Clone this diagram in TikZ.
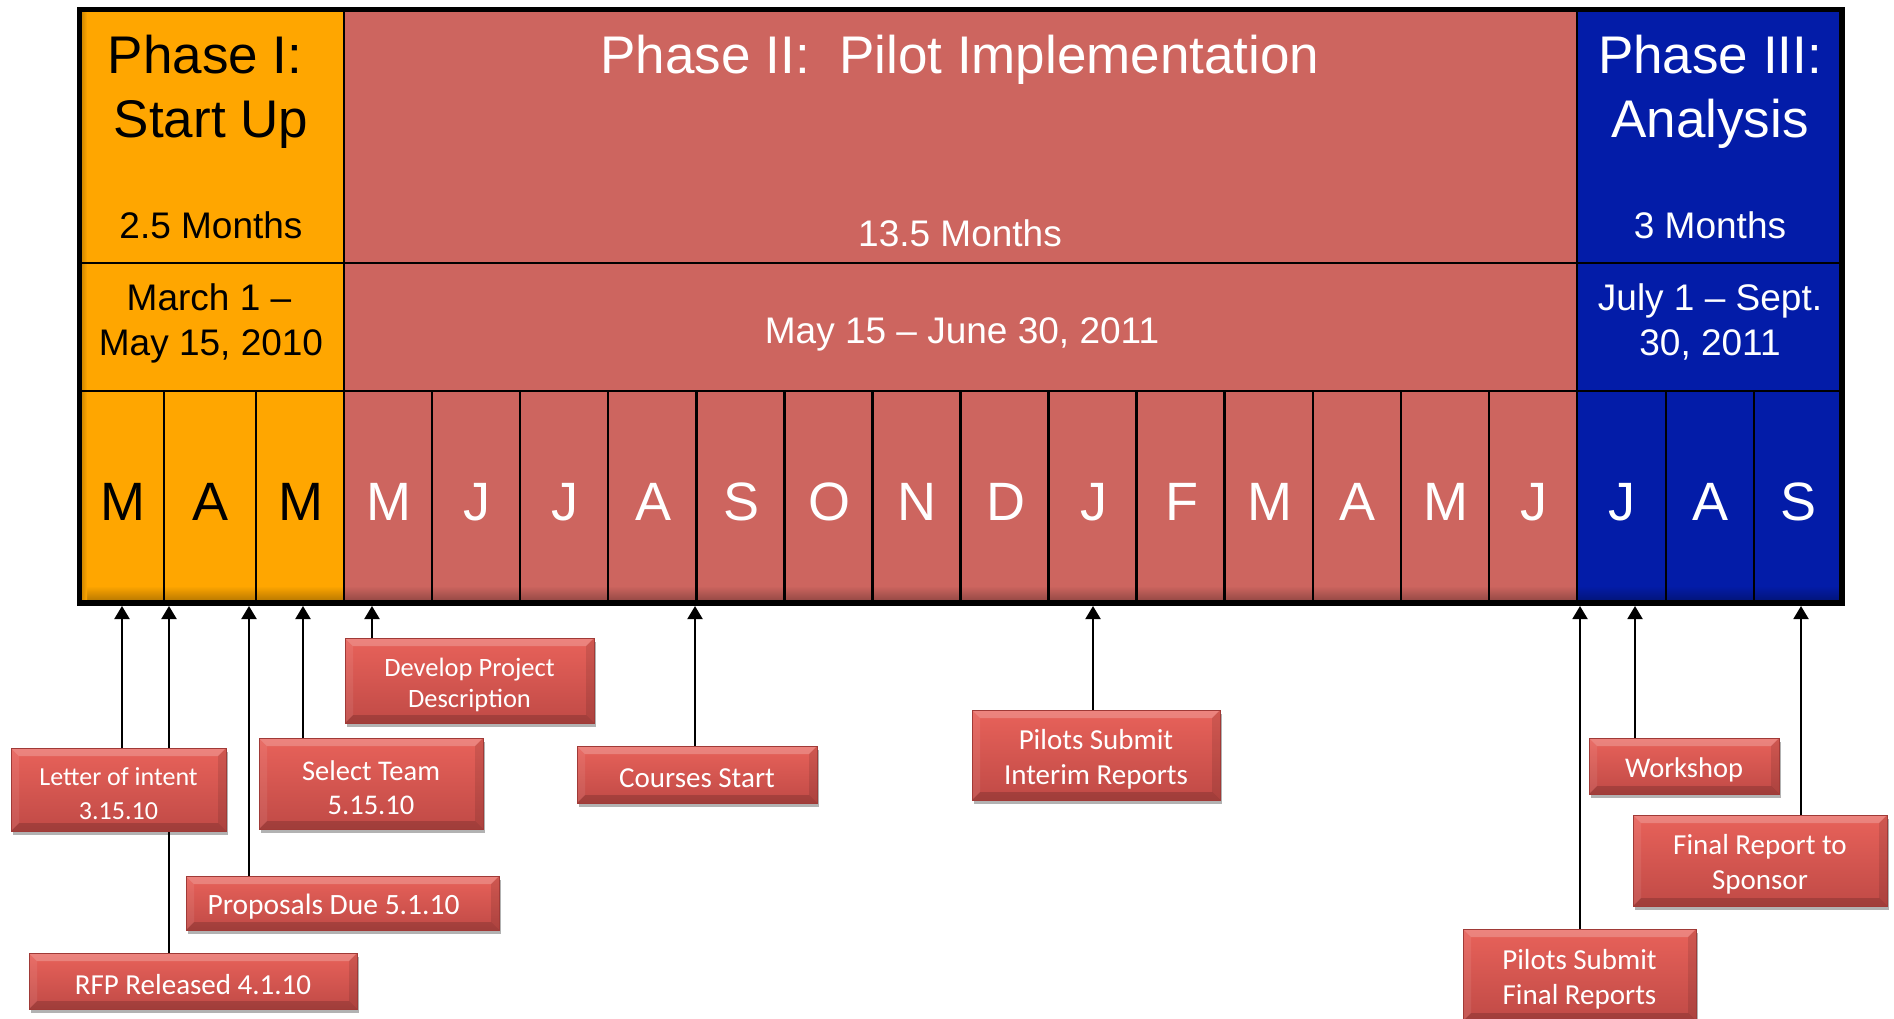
\documentclass[tikz,border=0pt]{standalone}
\usepackage{fontspec}
\setmainfont{Liberation Sans}
\newfontfamily\calib{Carlito}
\usetikzlibrary{arrows.meta,shadows,backgrounds}

\definecolor{phOne}{RGB}{255,166,0}
\definecolor{phTwo}{RGB}{205,101,95}
\definecolor{phThree}{RGB}{3,28,168}
\definecolor{cTop}{RGB}{232,98,90}
\definecolor{cBot}{RGB}{192,74,70}
\definecolor{cEdge}{RGB}{160,58,55}

\newcommand{\lowerline}[1]{\raisebox{-4pt}[\height][\depth]{#1}}

\tikzset{
  gridline/.style={line width=2.5pt, black},
  titletext/.style={font=\fontsize{53}{64}\selectfont, anchor=base, inner sep=0pt},
  subtext/.style={font=\fontsize{37}{45}\selectfont, anchor=base, inner sep=0pt},
  montext/.style={font=\fontsize{54}{60}\selectfont, anchor=base, inner sep=0pt},
  arr/.style={line width=2pt, black, -{Triangle[width=15pt,length=13pt]}},
  callout/.style={
    draw=cEdge, line width=1pt, top color=cTop, bottom color=cBot,
    text=white, align=center, inner sep=0pt,
    drop shadow={shadow xshift=2pt, shadow yshift=-4pt, opacity=0.3, fill=black},
    path picture={
      \fill[white,opacity=0.22] (path picture bounding box.north west) -- (path picture bounding box.north east)
        -- ([shift={(-8pt,-8pt)}]path picture bounding box.north east) -- ([shift={(8pt,-8pt)}]path picture bounding box.north west) -- cycle;
      \fill[black,opacity=0.16] (path picture bounding box.south west) -- (path picture bounding box.south east)
        -- ([shift={(-8pt,8pt)}]path picture bounding box.south east) -- ([shift={(8pt,8pt)}]path picture bounding box.south west) -- cycle;
      \fill[white,opacity=0.08] (path picture bounding box.north west) -- ([shift={(8pt,-8pt)}]path picture bounding box.north west)
        -- ([shift={(8pt,8pt)}]path picture bounding box.south west) -- (path picture bounding box.south west) -- cycle;
      \fill[black,opacity=0.1] (path picture bounding box.north east) -- ([shift={(-8pt,-8pt)}]path picture bounding box.north east)
        -- ([shift={(-8pt,8pt)}]path picture bounding box.south east) -- (path picture bounding box.south east) -- cycle;
    }
  },
}

\begin{document}
\begin{tikzpicture}[x=1pt,y=-1pt]
\useasboundingbox (0,0) rectangle (1894,1018);

% phase backgrounds
\fill[phOne] (79.5,9.5) rectangle (344,603);
\fill[phTwo] (344,9.5) rectangle (1577,603);
\fill[phThree] (1577,9.5) rectangle (1842,603);
% subtle bottom shading
\shade[top color=phOne, bottom color=phOne!70!black] (79.5,586) rectangle (344,602);
\shade[top color=phTwo, bottom color=phTwo!70!black] (344,586) rectangle (1577,602);
\shade[top color=phThree, bottom color=phThree!70!black] (1577,586) rectangle (1842,602);
\shade[left color=phOne!75!black, right color=phOne] (79.5,9.5) rectangle (87,603);

% grid lines
\draw[gridline] (79.5,263) -- (1842,263);
\draw[gridline] (79.5,391) -- (1842,391);
\draw[gridline] (344,9.5) -- (344,603);
\draw[gridline] (1577,9.5) -- (1577,603);
\foreach \gx in {164,256,1666,1754} {\draw[gridline] (\gx,391) -- (\gx,603);}
\foreach \k in {1,...,13} {\draw[gridline] ({344+88.07*\k},391) -- ({344+88.07*\k},603);}
% outer border
\draw[line width=5.5pt, black] (79.5,9.5) rectangle (1842,603);

% Phase I texts
\node[titletext] (p1a) at (205,73) {Phase I:};
\node[titletext] (p1b) at (211,137) {Start Up};
\node[subtext] (p1c) at (211,238) {2.5 Months};
\node[subtext] (p1d) at (209,310) {March 1 –};
\node[subtext] (p1e) at (211,355) {May 15, 2010};
% Phase II texts
\node[titletext, white] (p2a) at (960,73) {Phase II:\ \ Pilot Implementation};
\node[subtext, white] (p2b) at (960,246) {13.5 Months};
\node[subtext, white] (p2c) at (962,343) {May 15 – June 30, 2011};
% Phase III texts
\node[titletext, white] (p3a) at (1710,73) {Phase III:};
\node[titletext, white] (p3b) at (1710,137) {Analysis};
\node[subtext, white] (p3c) at (1710,238) {3 Months};
\node[subtext, white] (p3d) at (1710,310) {July 1 – Sept.};
\node[subtext, white] (p3e) at (1710,355) {30, 2011};

% month letters
\node[montext] (m1a) at (123,520) {M};
\node[montext] (m1b) at (211,520) {A};
\node[montext] (m1c) at (301,520) {M};
\foreach \m [count=\i from 0] in {M,J,J,A,S,O,N,D,J,F,M,A,M,J} {
  \node[montext, white] (m2-\i) at ({345+88.07*(\i+0.5)},520) {\m};
}
\node[montext, white] (m3a) at (1622,520) {J};
\node[montext, white] (m3b) at (1710,520) {A};
\node[montext, white] (m3c) at (1798,520) {S};

% arrow targets on the bar
\coordinate (tLetter) at (122,606);
\coordinate (tRfp) at (169,606);
\coordinate (tProp) at (249,606);
\coordinate (tSelect) at (303,606);
\coordinate (tDev) at (372,606);
\coordinate (tCourses) at (695,606);
\coordinate (tInterim) at (1093,606);
\coordinate (tFinal) at (1580,606);
\coordinate (tWork) at (1635,606);
\coordinate (tSponsor) at (1801,606);

% boxes
\node[callout, minimum width=249pt, minimum height=85pt, font=\calib\fontsize{26.5}{31}\selectfont] (dev) at (469.5,680.5) {\lowerline{Develop Project}\\\lowerline{Description}};
\node[callout, minimum width=215pt, minimum height=83pt, font=\calib\fontsize{26}{34}\selectfont] (letter) at (118.5,789.5) {\lowerline{Letter of intent}\\\lowerline{3.15.10}};
\node[callout, minimum width=224pt, minimum height=91pt, font=\calib\fontsize{28.5}{34}\selectfont] (select) at (371,783.5) {\lowerline{Select Team}\\\lowerline{5.15.10}};
\node[callout, minimum width=313pt, minimum height=54pt, font=\calib\fontsize{29.5}{36}\selectfont] (prop) at (342.5,903) {\lowerline{Proposals Due 5.1.10}\hspace{18pt}};
\node[callout, minimum width=328pt, minimum height=56pt, font=\calib\fontsize{29}{35}\selectfont] (rfp) at (193,981) {\lowerline{RFP Released 4.1.10}};
\node[callout, minimum width=240pt, minimum height=57pt, font=\calib\fontsize{29}{35}\selectfont] (courses) at (697,774.5) {\lowerline{Courses Start}};
\node[callout, minimum width=248pt, minimum height=90pt, font=\calib\fontsize{29}{35}\selectfont] (interim) at (1096,755) {\lowerline{Pilots Submit}\\\lowerline{Interim Reports}};
\node[callout, minimum width=190pt, minimum height=56pt, font=\calib\fontsize{28.5}{34}\selectfont] (work) at (1684,766) {\lowerline{Workshop}};
\node[callout, minimum width=254pt, minimum height=91pt, font=\calib\fontsize{29}{35}\selectfont] (sponsor) at (1760,860.5) {\lowerline{Final Report to}\\\lowerline{Sponsor}};
\node[callout, minimum width=233pt, minimum height=92pt, font=\calib\fontsize{29}{35}\selectfont] (final) at (1579.5,975) {\lowerline{Pilots Submit}\\\lowerline{Final Reports}};

% arrows (behind boxes)
\begin{pgfonlayer}{background}
\fill[white] (0,0) rectangle (1894,1018);
\draw[arr] (letter.north -| tLetter) -- (tLetter);
\draw[arr] (rfp.north -| tRfp) -- (tRfp);
\draw[arr] (prop.north -| tProp) -- (tProp);
\draw[arr] (select.north -| tSelect) -- (tSelect);
\draw[arr] (dev.north -| tDev) -- (tDev);
\draw[arr] (courses.north -| tCourses) -- (tCourses);
\draw[arr] (interim.north -| tInterim) -- (tInterim);
\draw[arr] (final.north -| tFinal) -- (tFinal);
\draw[arr] (work.north -| tWork) -- (tWork);
\draw[arr] (sponsor.north -| tSponsor) -- (tSponsor);
\end{pgfonlayer}
\end{tikzpicture}
\end{document}
